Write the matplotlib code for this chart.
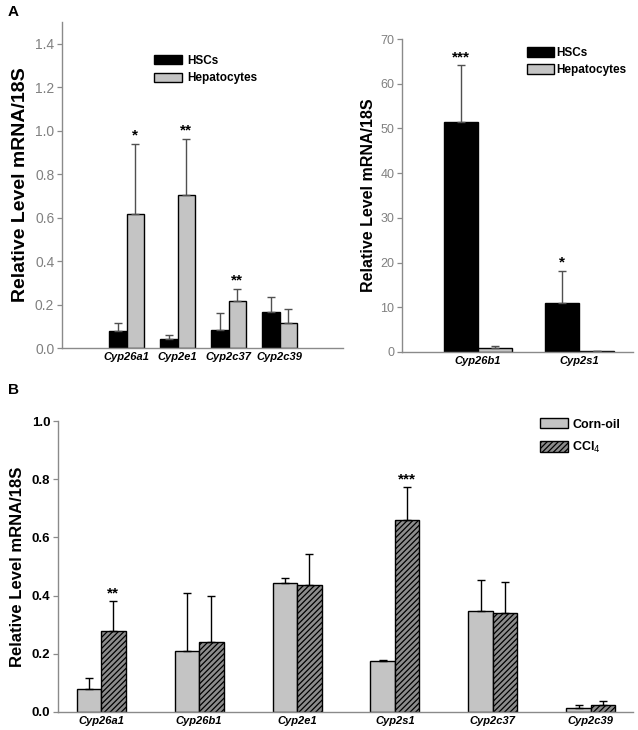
import numpy as np
import matplotlib
matplotlib.use("Agg")
import matplotlib.pyplot as plt

plt.rcParams['font.family'] = ['Liberation Sans', 'DejaVu Sans']
plt.rcParams['hatch.linewidth'] = 0.9

# Panel A (left): HSCs vs hepatocytes, low-level genes
genes_a1 = ['Cyp26a1', 'Cyp2e1', 'Cyp2c37', 'Cyp2c39']
hsc_a1 = [0.08, 0.04, 0.084, 0.166]
hsc_a1_top = [0.117, 0.061, 0.161, 0.236]
hep_a1 = [0.618, 0.703, 0.218, 0.117]
hep_a1_top = [0.94, 0.963, 0.273, 0.18]
stars_a1 = ['*', '**', '**', '']

# Panel A (right)
genes_a2 = ['Cyp26b1', 'Cyp2s1']
hsc_a2 = [51.4, 10.9]
hsc_a2_top = [64.1, 18.2]
hep_a2 = [0.9, 0.15]
hep_a2_top = [1.4, 0.2]
stars_a2 = ['***', '*']

# Panel B: corn-oil vs CCl4
genes_b = ['Cyp26a1', 'Cyp26b1', 'Cyp2e1', 'Cyp2s1', 'Cyp2c37', 'Cyp2c39']
corn = [0.078, 0.21, 0.443, 0.175, 0.348, 0.015]
corn_top = [0.118, 0.408, 0.46, 0.178, 0.452, 0.025]
ccl4 = [0.28, 0.24, 0.435, 0.66, 0.34, 0.025]
ccl4_top = [0.381, 0.40, 0.543, 0.772, 0.446, 0.037]
stars_b = ['**', '', '', '***', '', '']

LIGHT = '#c4c4c4'
SPINE = '#8a8a8a'
W, H = 638, 730

fig = plt.figure(figsize=(W / 100, H / 100), dpi=100)


def px_axes(x0, y0, x1, y1):
    return fig.add_axes([x0 / W, 1 - y1 / H, (x1 - x0) / W, (y1 - y0) / H])


def style(ax, tick_color, tick_weight, tick_size):
    for s in ['top', 'right']:
        ax.spines[s].set_visible(False)
    for s in ['left', 'bottom']:
        ax.spines[s].set_color(SPINE)
        ax.spines[s].set_linewidth(1.0)
    ax.tick_params(axis='y', direction='out', length=3.5, width=0.9,
                   color=SPINE, labelcolor=tick_color, labelsize=tick_size, pad=2)
    for lab in ax.get_yticklabels():
        lab.set_fontweight(tick_weight)
    ax.tick_params(axis='x', length=0, pad=3)


def pair_bars(ax, x, v1, t1, v2, t2, w, c1, c2, h2, ecolor):
    x = np.asarray(x, dtype=float)
    b1 = ax.bar(x - w / 2, v1, w, color=c1, edgecolor='black', linewidth=1.0)
    b2 = ax.bar(x + w / 2, v2, w, color=c2, edgecolor='black', linewidth=1.0,
                hatch=h2)
    for xs, v, t in ((x - w / 2, v1, t1), (x + w / 2, v2, t2)):
        v = np.asarray(v)
        t = np.asarray(t)
        ax.errorbar(xs, v, yerr=[np.zeros_like(v), t - v], fmt='none',
                    ecolor=ecolor, elinewidth=1.0, capsize=3, capthick=1.0)
    return b1, b2


XLAB = dict(fontsize=8, fontweight='bold', style='italic')

# ---------------- Panel A left ----------------
ax1 = px_axes(62, 22, 343, 348)
xa1 = np.arange(len(genes_a1))
b1, b2 = pair_bars(ax1, xa1, hsc_a1, hsc_a1_top, hep_a1, hep_a1_top, 0.34,
                   'black', LIGHT, None, '#505050')
for i, s in enumerate(stars_a1):
    if s:
        ax1.text(xa1[i] + 0.17, hep_a1_top[i] + 0.005, s, ha='center', va='bottom',
                 fontsize=11, fontweight='bold')
ax1.set_xlim(-1.27, 4.24)
ax1.set_ylim(0, 1.5)
ax1.set_yticks(np.arange(0, 1.41, 0.2))
ax1.set_yticklabels(['%.1f' % v for v in np.arange(0, 1.41, 0.2)])
ax1.set_xticks(xa1)
ax1.set_xticklabels(genes_a1, **XLAB)
style(ax1, '#808080', 'normal', 10)
ax1.set_ylabel('Relative Level mRNA/18S', fontsize=14, fontweight='bold', labelpad=4)
ax1.legend([b1, b2], ['HSCs', 'Hepatocytes'], loc='upper left',
           bbox_to_anchor=(154 / W, 1 - 55 / H), bbox_transform=fig.transFigure,
           frameon=False, prop={'weight': 'bold', 'size': 8.5},
           handlelength=2.4, handleheight=0.8, handletextpad=0.4, labelspacing=0.45,
           borderaxespad=0, borderpad=0)

# ---------------- Panel A right ----------------
ax2 = px_axes(402, 39, 633, 352)
xa2 = np.arange(len(genes_a2))
c1, c2 = pair_bars(ax2, xa2, hsc_a2, hsc_a2_top, hep_a2, hep_a2_top, 0.34,
                   'black', LIGHT, None, '#505050')
for i, s in enumerate(stars_a2):
    ax2.text(xa2[i] - 0.17, hsc_a2_top[i] + 0.3, s, ha='center', va='bottom',
             fontsize=11, fontweight='bold')
ax2.set_xlim(-0.75, 1.53)
ax2.set_ylim(0, 70)
ax2.set_yticks(np.arange(0, 71, 10))
ax2.set_xticks(xa2)
ax2.set_xticklabels(genes_a2, **XLAB)
style(ax2, '#808080', 'normal', 9)
ax2.set_ylabel('Relative Level mRNA/18S', fontsize=11.5, fontweight='bold', labelpad=3)
ax2.legend([c1, c2], ['HSCs', 'Hepatocytes'], loc='upper left',
           bbox_to_anchor=(527 / W, 1 - 47 / H), bbox_transform=fig.transFigure,
           frameon=False, prop={'weight': 'bold', 'size': 8.5},
           handlelength=2.3, handleheight=0.9, handletextpad=0.2, labelspacing=0.4,
           borderaxespad=0, borderpad=0)

# ---------------- Panel B ----------------
ax3 = px_axes(58, 421, 633, 712)
xb = np.arange(len(genes_b))
d1, d2 = pair_bars(ax3, xb, corn, corn_top, ccl4, ccl4_top, 0.25,
                   LIGHT, '#8c8c8c', '//////', 'black')
for i, s in enumerate(stars_b):
    if s:
        ax3.text(xb[i] + 0.125, ccl4_top[i] + 0.002, s, ha='center', va='bottom',
                 fontsize=11, fontweight='bold')
ax3.set_xlim(-0.44, 5.43)
ax3.set_ylim(0, 1.0)
ax3.set_yticks(np.arange(0, 1.01, 0.2))
ax3.set_yticklabels(['%.1f' % v for v in np.arange(0, 1.01, 0.2)])
ax3.set_xticks(xb)
ax3.set_xticklabels(genes_b, **XLAB)
style(ax3, 'black', 'bold', 9.5)
ax3.set_ylabel('Relative Level mRNA/18S', fontsize=12, fontweight='bold', labelpad=5)
ax3.legend([d1, d2], ['Corn-oil', 'CCl$_4$'], loc='upper left',
           bbox_to_anchor=(540 / W, 1 - 418 / H), bbox_transform=fig.transFigure,
           frameon=False, prop={'weight': 'bold', 'size': 9},
           handlelength=2.2, handleheight=0.9, handletextpad=0.4, labelspacing=0.75,
           borderaxespad=0, borderpad=0)

fig.text(8 / W, 1 - 5 / H, 'A', fontsize=11, fontweight='bold', va='top')
fig.text(8 / W, 1 - 383 / H, 'B', fontsize=11, fontweight='bold', va='top')

fig.savefig('out.png', dpi=100)
